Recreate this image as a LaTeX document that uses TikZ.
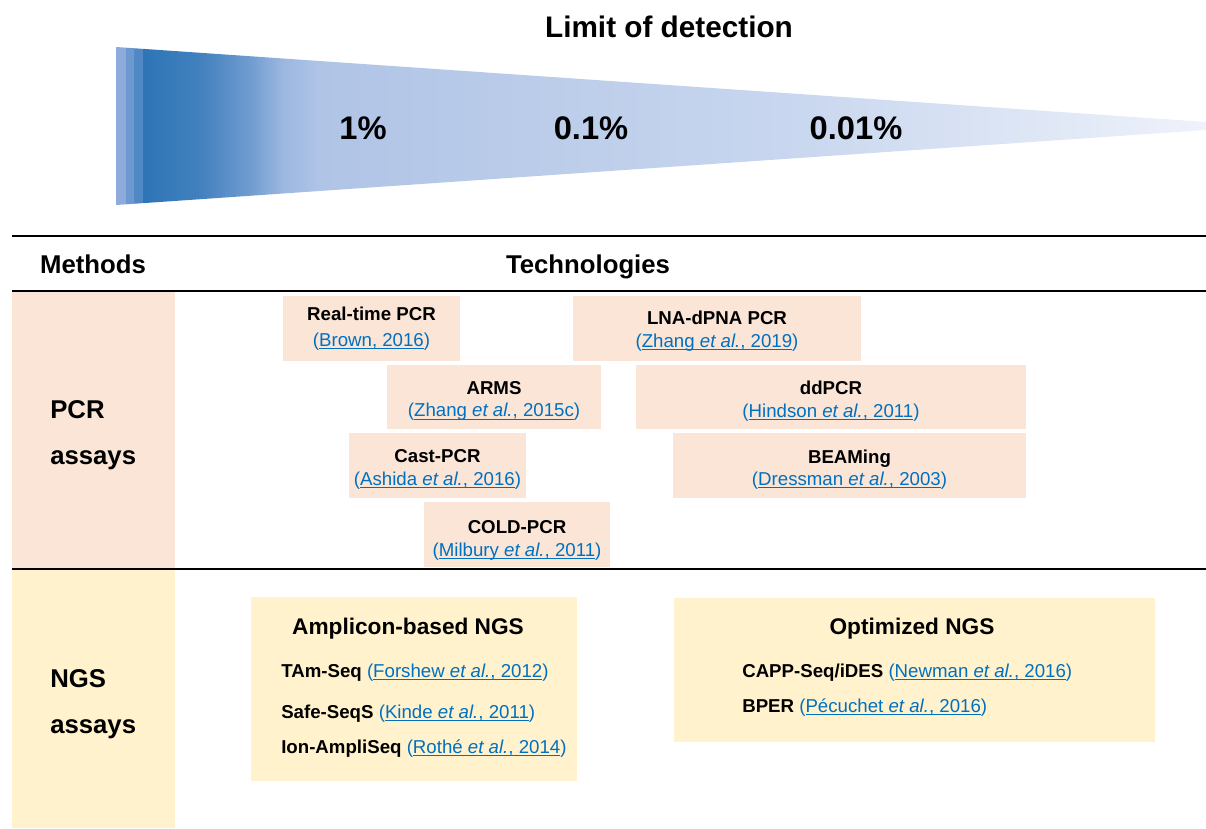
\documentclass[tikz,border=0pt]{standalone}
\usepackage{fontspec}
\setmainfont{Liberation Sans}
\definecolor{peach}{HTML}{FBE5D6}
\definecolor{cream}{HTML}{FFF2CC}
\definecolor{citeblue}{HTML}{0070C0}
\newcommand\ulc[1]{\setbox0\hbox{#1}\rlap{\rule[-2pt]{\wd0}{0.75pt}}\box0}
\newcommand\cit[2]{{\color{citeblue}(\ulc{#1 \textit{et al.}, #2})}}
\newcommand\citb[1]{{\color{citeblue}(\ulc{#1})}}
\pgfdeclarehorizontalshading{lod}{100bp}{%
color(0bp)=(rgb,255:red,143;green,170;blue,220);
color(25bp)=(rgb,255:red,143;green,170;blue,220);
color(25.45bp)=(rgb,255:red,143;green,170;blue,220);
color(25.46bp)=(rgb,255:red,108;green,153;blue,207);
color(25.82bp)=(rgb,255:red,108;green,153;blue,207);
color(25.83bp)=(rgb,255:red,79;green,136;blue,197);
color(26.23bp)=(rgb,255:red,79;green,136;blue,197);
color(26.24bp)=(rgb,255:red,46;green,117;blue,182);
color(28.85bp)=(rgb,255:red,66;green,128;blue,190);
color(31.15bp)=(rgb,255:red,112;green,156;blue,208);
color(32.66bp)=(rgb,255:red,156;green,183;blue,224);
color(34.36bp)=(rgb,255:red,176;green,196;blue,230);
color(38.03bp)=(rgb,255:red,180;green,199;blue,231);
color(56.38bp)=(rgb,255:red,201;green,215;blue,239);
color(75bp)=(rgb,255:red,238;green,242;blue,250);
color(100bp)=(rgb,255:red,238;green,242;blue,250)}
% name, x1, y1, x2, y2, fill, text shift (px, down), content
\newcommand\tb[8]{%
  \node[fill=#6, inner sep=0pt, minimum width={(#4-#2)*0.75pt}, minimum height={(#5-#3)*0.75pt}] (#1) at ({(#2+#4)/2},{(#3+#5)/2}) {};
  \node[tbox] (#1-t) at ([yshift={-(#7)*0.75pt}]#1.center) {#8};}
\begin{document}
\begin{tikzpicture}[x=0.75pt,y=-0.75pt,
  tbox/.style={inner sep=0pt, align=center, font=\fontsize{14}{17}\selectfont},
  head/.style={font=\fontsize{19.3}{23}\selectfont\bfseries, anchor=base, inner sep=0pt},
  pct/.style={font=\fontsize{24.5}{29}\selectfont\bfseries, anchor=base, inner sep=0pt},
  side/.style={font=\fontsize{19.3}{23}\selectfont\bfseries, anchor=base west, inner sep=0pt},
  ngstitle/.style={font=\fontsize{17}{20}\selectfont\bfseries, anchor=base, inner sep=0pt},
  item/.style={font=\fontsize{14}{17}\selectfont, anchor=base west, inner sep=0pt},
  rule/.style={line width=1.4pt, black}]
\useasboundingbox (0,0) rectangle (1206,828);
% triangle
\shade[shading=lod] (116,47) -- (1206,122) -- (1206,130) -- (116,205) -- cycle;
\node[head, font=\fontsize{22.3}{26}\selectfont\bfseries] (lod) at (669,37) {Limit of detection};
\node[pct] (p1) at (363,139) {1\%};
\node[pct] (p2) at (591,139) {0.1\%};
\node[pct] (p3) at (856,139) {0.01\%};
% columns
\fill[peach] (12,292) rectangle (175,568);
\fill[cream] (12,570) rectangle (175,828);
\draw[rule] (12,236) -- (1206,236);
\draw[rule] (12,291) -- (1206,291);
\draw[rule] (12,569) -- (1206,569);
\node[head] (methods) at (93,273) {Methods};
\node[head] (tech) at (588,273) {Technologies};
\node[side] (pcr1) at (50,418) {PCR};
\node[side] (pcr2) at (50,464) {assays};
\node[side] (ngs1) at (50,687) {NGS};
\node[side] (ngs2) at (50,733) {assays};
% PCR boxes
\tb{rt}{283}{296}{460}{361}{peach}{0}{\textbf{Real-time PCR}\\[2.5pt]\citb{Brown, 2016}}
\tb{lna}{573}{296}{861}{361}{peach}{3}{\textbf{LNA-dPNA PCR}\\\cit{Zhang}{2019}}
\tb{arms}{387}{365}{601}{429}{peach}{4}{\textbf{ARMS}\\\cit{Zhang}{2015c}}
\tb{dd}{636}{365}{1026}{429}{peach}{4}{\textbf{ddPCR}\\\cit{Hindson}{2011}}
\tb{cast}{349}{433}{526}{498}{peach}{4}{\textbf{Cast-PCR}\\\cit{Ashida}{2016}}
\tb{beam}{673}{433}{1026}{498}{peach}{4}{\textbf{BEAMing}\\\cit{Dressman}{2003}}
\tb{cold}{424}{502}{610}{567}{peach}{6}{\textbf{COLD-PCR}\\\cit{Milbury}{2011}}
% NGS boxes
\tb{amp}{251}{597}{577}{781}{cream}{0}{}
\tb{opt}{674}{598}{1155}{742}{cream}{0}{}
\node[ngstitle] (ampt) at (408,634) {Amplicon-based NGS};
\node[item] (tam) at (281,677) {\textbf{TAm-Seq} \cit{Forshew}{2012}};
\node[item] (safe) at (281,718) {\textbf{Safe-SeqS} \cit{Kinde}{2011}};
\node[item] (ion) at (281,753) {\textbf{Ion-AmpliSeq} \cit{Rothé}{2014}};
\node[ngstitle] (optt) at (912,634) {Optimized NGS};
\node[item] (capp) at (742,677) {\textbf{CAPP-Seq/iDES} \cit{Newman}{2016}};
\node[item] (bper) at (742,712) {\textbf{BPER} \cit{Pécuchet}{2016}};
\end{tikzpicture}
\end{document}
